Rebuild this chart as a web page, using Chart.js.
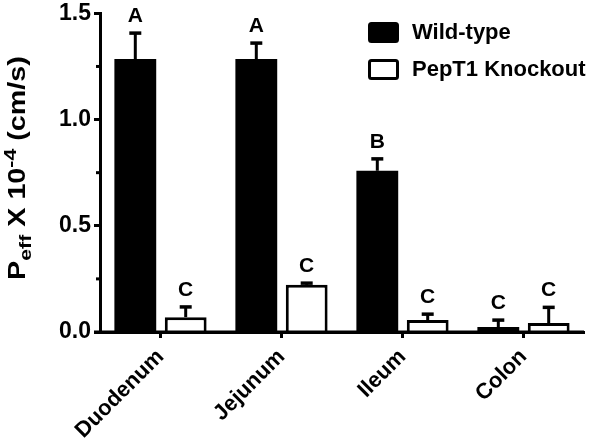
<!DOCTYPE html>
<html>
<head>
<meta charset="utf-8">
<script src="https://cdn.jsdelivr.net/npm/chart.js@4/dist/chart.umd.min.js"></script>
<style>
html,body{margin:0;padding:0;background:#fff;}
#wrap{width:600px;height:445px;position:relative;}
</style>
</head>
<body>
<div id="wrap"><canvas id="c" width="600" height="445"></canvas></div>
<script>
// ---- data ----
const categories = ['Duodenum', 'Jejunum', 'Ileum', 'Colon'];
const seriesNames = ['Wild-type', 'PepT1 Knockout'];
const wildType = [1.285, 1.285, 0.759, 0.023];
const wildTypeErr = [0.122, 0.075, 0.056, 0.033];
const knockout = [0.070, 0.222, 0.056, 0.042];
const knockoutErr = [0.048, 0.008, 0.028, 0.074];
const wildTypeLetters = ['A', 'A', 'B', 'C'];
const knockoutLetters = ['C', 'C', 'C', 'C'];
const majorTicks = [0, 0.5, 1.0, 1.5];
const minorTicks = [0.25, 0.75, 1.25];
const errs = [wildTypeErr, knockoutErr];
const letters = [wildTypeLetters, knockoutLetters];

const FONT = '"Liberation Sans", Arial, Helvetica, sans-serif';

const extras = {
  id: 'extras',
  afterDatasetsDraw(chart) {
    const ctx = chart.ctx;
    const y = chart.scales.y;
    const ca = chart.chartArea;
    ctx.save();
    ctx.strokeStyle = '#000';
    ctx.fillStyle = '#000';
    // baseline (redrawn over bars) extended a little left of y axis
    const y0 = y.getPixelForValue(0);
    ctx.lineWidth = 3;
    ctx.beginPath();
    ctx.moveTo(ca.left - 6, y0);
    ctx.lineTo(ca.right, y0);
    ctx.stroke();
    // minor ticks
    ctx.lineWidth = 3;
    minorTicks.forEach(v => {
      const py = y.getPixelForValue(v);
      ctx.beginPath();
      ctx.moveTo(ca.left - 4, py);
      ctx.lineTo(ca.left, py);
      ctx.stroke();
    });
    // error bars + letters
    chart.data.datasets.forEach((ds, di) => {
      const meta = chart.getDatasetMeta(di);
      meta.data.forEach((bar, i) => {
        const top = ds.data[i] + errs[di][i];
        const pyTop = y.getPixelForValue(top);
        const pyBar = y.getPixelForValue(ds.data[i]);
        ctx.lineWidth = 3;
        ctx.beginPath();
        ctx.moveTo(bar.x, pyBar);
        ctx.lineTo(bar.x, pyTop);
        ctx.stroke();
        ctx.lineWidth = 3.5;
        ctx.beginPath();
        ctx.moveTo(bar.x - 6, pyTop);
        ctx.lineTo(bar.x + 6, pyTop);
        ctx.stroke();
        ctx.font = 'bold 21px ' + FONT;
        ctx.textAlign = 'center';
        ctx.textBaseline = 'alphabetic';
        ctx.fillText(letters[di][i], bar.x, pyTop - 11);
      });
    });
    // legend
    const lx = 368, ly = [22, 59];
    chart.data.datasets.forEach((ds, di) => {
      const by = ly[di];
      ctx.beginPath();
      if (ctx.roundRect) ctx.roundRect(lx + 1.5, by + 1.5, 28, 18, 2); else ctx.rect(lx + 1.5, by + 1.5, 28, 18);
      ctx.fillStyle = ds.backgroundColor;
      ctx.fill();
      ctx.lineWidth = 3;
      ctx.strokeStyle = '#000';
      ctx.stroke();
      ctx.fillStyle = '#000';
      ctx.font = 'bold 22px ' + FONT;
      ctx.textAlign = 'left';
      ctx.textBaseline = 'middle';
      ctx.fillText(ds.label, 412, by + 11);
    });
    // y axis title with subscript / superscript
    const parts = [
      ['P', 23, 0], ['eff', 17, 6], [' X 10', 23, 0], ['-4', 17, -9], [' (cm/s)', 23, 0]
    ];
    let total = 0;
    parts.forEach(p => { ctx.font = 'bold ' + p[1] + 'px ' + FONT; total += ctx.measureText(p[0]).width; });
    const stretch = 1.25;
    ctx.translate(25, 168);
    ctx.rotate(-Math.PI / 2);
    ctx.scale(stretch, 1);
    let x = -total / 2;
    ctx.textAlign = 'left';
    ctx.textBaseline = 'alphabetic';
    parts.forEach(p => {
      ctx.font = 'bold ' + p[1] + 'px ' + FONT;
      ctx.fillText(p[0], x, p[2]);
      x += ctx.measureText(p[0]).width;
    });
    ctx.restore();
  }
};

new Chart(document.getElementById('c'), {
  type: 'bar',
  data: {
    labels: categories,
    datasets: [
      { label: seriesNames[0], data: wildType, backgroundColor: '#000', borderColor: '#000', borderWidth: 0 },
      { label: seriesNames[1], data: knockout, backgroundColor: '#fff', borderColor: '#000', borderWidth: 3 }
    ]
  },
  options: {
    responsive: false,
    animation: false,
    devicePixelRatio: 1,
    layout: { padding: { top: 10, right: 16, left: 0, bottom: 0 } },
    plugins: { legend: { display: false }, tooltip: { enabled: false } },
    datasets: { bar: { categoryPercentage: 0.833, barPercentage: 0.83 } },
    scales: {
      x: {
        afterFit(s) { s.height = 113; },
        grid: { display: true, drawOnChartArea: false, offset: false, tickLength: 6, tickWidth: 3, tickColor: '#000' },
        border: { display: true, width: 3, color: '#000' },
        ticks: { color: '#000', maxRotation: 45, minRotation: 45, padding: 6, font: { family: FONT, size: 22, weight: 'bold' } }
      },
      y: {
        min: 0, max: 1.5,
        afterFit(s) { s.width = 100; },
        afterBuildTicks(s) { s.ticks = majorTicks.map(v => ({ value: v })); },
        grid: { display: true, drawOnChartArea: false, tickLength: 6, tickWidth: 3, tickColor: '#000' },
        border: { display: true, width: 3, color: '#000' },
        ticks: { color: '#000', padding: 3, callback: v => Number(v).toFixed(1), font: { family: FONT, size: 23, weight: 'bold', lineHeight: 0.9 } }
      }
    }
  },
  plugins: [extras]
});
</script>
</body>
</html>
